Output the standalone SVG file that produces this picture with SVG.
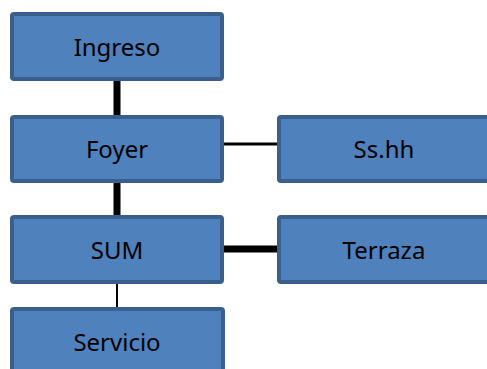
<svg xmlns="http://www.w3.org/2000/svg" width="487" height="369" viewBox="0 0 487 369">
<style>
.box{fill:#4F81BD;stroke:#3A5F8C;stroke-width:4}
.lbl{font-family:"Noto Sans","Open Sans",sans-serif;font-size:24px;fill:#000;text-anchor:middle}
.c{stroke:#000;fill:none}
</style>
<rect width="487" height="369" fill="#fff"/>
<g id="connectors">
<line class="c" x1="117" y1="80" x2="117" y2="116" stroke-width="7"/>
<line class="c" x1="117" y1="182" x2="117" y2="216" stroke-width="7"/>
<line class="c" x1="223" y1="144" x2="278" y2="144" stroke-width="3"/>
<line class="c" x1="223" y1="249" x2="278" y2="249" stroke-width="7"/>
<line class="c" x1="117" y1="276" x2="117" y2="308" stroke-width="2"/>
</g>
<g id="ingreso"><rect class="box" x="12" y="14" width="210" height="65" rx="2"/><text class="lbl" x="117" y="56">Ingreso</text></g>
<g id="foyer"><rect class="box" x="12" y="117" width="210" height="64" rx="2"/><text class="lbl" x="117" y="158">Foyer</text></g>
<g id="sshh"><rect class="box" x="279" y="117" width="210" height="64" rx="2"/><text class="lbl" x="384" y="158">Ss.hh</text></g>
<g id="sum"><rect class="box" x="12" y="217" width="210" height="65" rx="2"/><text class="lbl" x="117" y="259">SUM</text></g>
<g id="terraza"><rect class="box" x="279" y="217" width="210" height="65" rx="2"/><text class="lbl" x="384" y="259">Terraza</text></g>
<g id="servicio"><rect class="box" x="12" y="309" width="211" height="70" rx="2"/><text class="lbl" x="117" y="351">Servicio</text></g>
</svg>
